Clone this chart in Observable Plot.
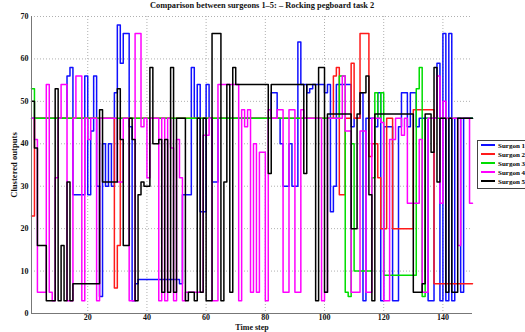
<!DOCTYPE html>
<html><head><meta charset="utf-8">
<script src="https://cdn.jsdelivr.net/npm/d3@7"></script>
<script src="https://cdn.jsdelivr.net/npm/@observablehq/plot@0.6"></script>
<style>
body{margin:0;background:#fff;}
#wrap{position:relative;width:525px;height:332px;overflow:hidden;font-family:"Liberation Serif","Times New Roman",serif;}
#wrap svg{position:absolute;left:0;top:0;}
.lbl{position:absolute;font-weight:bold;color:#111;white-space:nowrap;}
#title{top:1px;left:150px;width:200px;text-align:center;font-size:8.4px;}
#xlab{top:322.5px;left:222px;width:60px;text-align:center;font-size:8px;line-height:9px;}
#ylab{left:14px;top:165px;font-size:8.6px;transform:translate(-50%,-50%) rotate(-90deg);}
#legend{position:absolute;left:477px;top:140px;width:70px;height:47px;border:1px solid #444;background:#fff;}
.li{position:absolute;left:3px;height:9px;font-size:7px;font-weight:bold;line-height:9px;white-space:nowrap;}
.li span.sw{display:inline-block;width:14px;height:2px;vertical-align:middle;margin-right:3px;position:relative;top:-1px;}
</style></head>
<body><div id="wrap">
<div class="lbl" id="title">Comparison between surgeons 1–5: – Rocking pegboard task 2</div>
<div class="lbl" id="xlab">Time step</div>
<div class="lbl" id="ylab">Clustered outputs</div>
</div>
<script>
const names = ["Surgon 1","Surgon 2","Surgon 3","Surgon 4","Surgon 5"];
const colors = ["#1010ff","#ff1a1a","#00dd00","#ff00ff","#000000"];
const xTicks = [20,40,60,80,100,120,140];
const yTicks = [0,10,20,30,40,50,60,70];
const xStart = 1, xEnd = 150;

// Surgeon 1 (blue): change points and values
const s1t = [1,13,14,15,19,20,21,22,23,24,25,26,27,28,29,30,31,32,34,35,36,37,51,52,55,56,57,58,60,61,62,64,82,84,85,86,88,89,91,92,94,95,96,100,101,102,103,104,109,110,112,113,114,117,118,119,120,123,125,126,128,129,131,132,135,137,138,139,140,141,142,143,144,146,147];
const s1v = [46,56,58,28,56,28,43,56,30,4,40,30,40,30,52,68,59,66,44,3,7,8,7,28,58,46,54,24,54,46,31,46,52,46,40,30,40,30,64,54,52,53,54,52,54,24,30,54,44,46,52,3,46,44,52,3,44,3,44,52,44,52,44,46,3,46,59,3,66,3,66,3,46,5,46];
// Surgeon 2 (red)
const s2t = [1,2,29,30,31,103,104,105,107,109,110,112,115,116,118,119,121,123,130,137];
const s2v = [23,46,6,16,46,56,58,28,46,59,46,66,37,40,32,20,46,20,48,7];
// Surgeon 3 (green)
const s3t = [1,2,105,107,108,109,110,116,117,118,119,120,131,132,133,134];
const s3v = [53,46,56,5,4,40,10,32,52,46,52,9,53,58,4,46];
// Surgeon 4 (magenta)
const s4t = [1,2,3,6,7,8,9,10,11,13,15,16,18,19,20,21,23,24,30,32,34,36,38,39,40,41,44,45,46,47,48,49,50,51,52,53,59,61,62,64,71,72,73,74,75,76,77,78,80,81,82,84,86,88,90,92,93,99,100,101,106,107,109,112,114,116,119,120,122,124,126,127,128,132,133,135,138,139,140,141,145,146,149];
const s4v = [46,41,5,54,5,3,32,46,54,3,46,56,3,46,41,46,3,46,31,46,3,66,44,46,32,46,3,46,3,46,39,3,41,32,3,5,42,46,3,54,3,48,44,48,5,40,5,38,3,48,46,48,5,48,5,48,46,3,5,46,56,43,5,43,5,46,45,3,41,46,42,46,26,41,5,46,56,26,50,46,16,46,26];
// Surgeon 5 (black)
const s5t = [1,2,3,6,9,10,11,12,13,14,15,24,25,30,31,32,34,35,36,37,38,39,41,42,44,45,46,47,48,49,50,53,54,56,57,58,59,60,62,65,66,67,68,69,70,81,82,93,94,97,98,100,101,109,111,112,114,115,116,117,130,133,134,136,137,138,139,141,142,143,145];
const s5v = [50,39,16,3,53,3,16,3,31,3,7,48,31,53,41,16,46,41,3,28,31,30,58,40,41,5,41,5,58,5,46,3,5,3,46,5,46,3,66,3,31,54,5,58,54,33,54,33,54,3,58,5,47,20,47,52,56,28,3,47,5,7,47,38,58,31,46,5,46,5,46];

const series = [[s1t,s1v],[s2t,s2v],[s3t,s3v],[s4t,s4v],[s5t,s5v]];
const rows = [];
series.forEach(([t,v],i)=>{
  t.forEach((tt,j)=>rows.push({s:names[i], t:tt, v:v[j]}));
  rows.push({s:names[i], t:xEnd, v:v[v.length-1]});
});

const chart = Plot.plot({
  width: 525, height: 332,
  marginLeft: 31, marginRight: 53, marginTop: 16, marginBottom: 19,
  x: {domain: [xStart, xEnd]},
  y: {domain: [0, 70]},
  color: {domain: names, range: colors},
  style: {fontFamily: "'Liberation Serif', serif", fontSize: "8px", fontWeight: "bold", background: "transparent", color: "#111"},
  marks: [
    Plot.gridX(xTicks, {stroke: "#b0b0b0", strokeOpacity: 1, strokeDasharray: "1,2"}),
    Plot.gridY(yTicks, {stroke: "#b0b0b0", strokeOpacity: 1, strokeDasharray: "1,2"}),
    Plot.line(rows, {x: "t", y: "v", z: "s", stroke: "s", curve: "step-after", strokeWidth: 1.5}),
    Plot.ruleX([xStart], {stroke: "#777"}),
    Plot.ruleY([0], {stroke: "#777"}),
    Plot.axisX({ticks: xTicks, tickSize: 0, tickPadding: 1, label: null}),
    Plot.axisY({ticks: yTicks, tickSize: 0, tickPadding: 3, label: null})
  ]
});
document.getElementById("wrap").appendChild(chart);

const lg = document.createElement("div");
lg.id = "legend";
names.forEach((n,i)=>{
  const d = document.createElement("div");
  d.className = "li";
  d.style.top = (1 + i*9) + "px";
  d.innerHTML = `<span class="sw" style="background:${colors[i]}"></span>${n}`;
  lg.appendChild(d);
});
document.getElementById("wrap").appendChild(lg);
</script>
</body></html>
